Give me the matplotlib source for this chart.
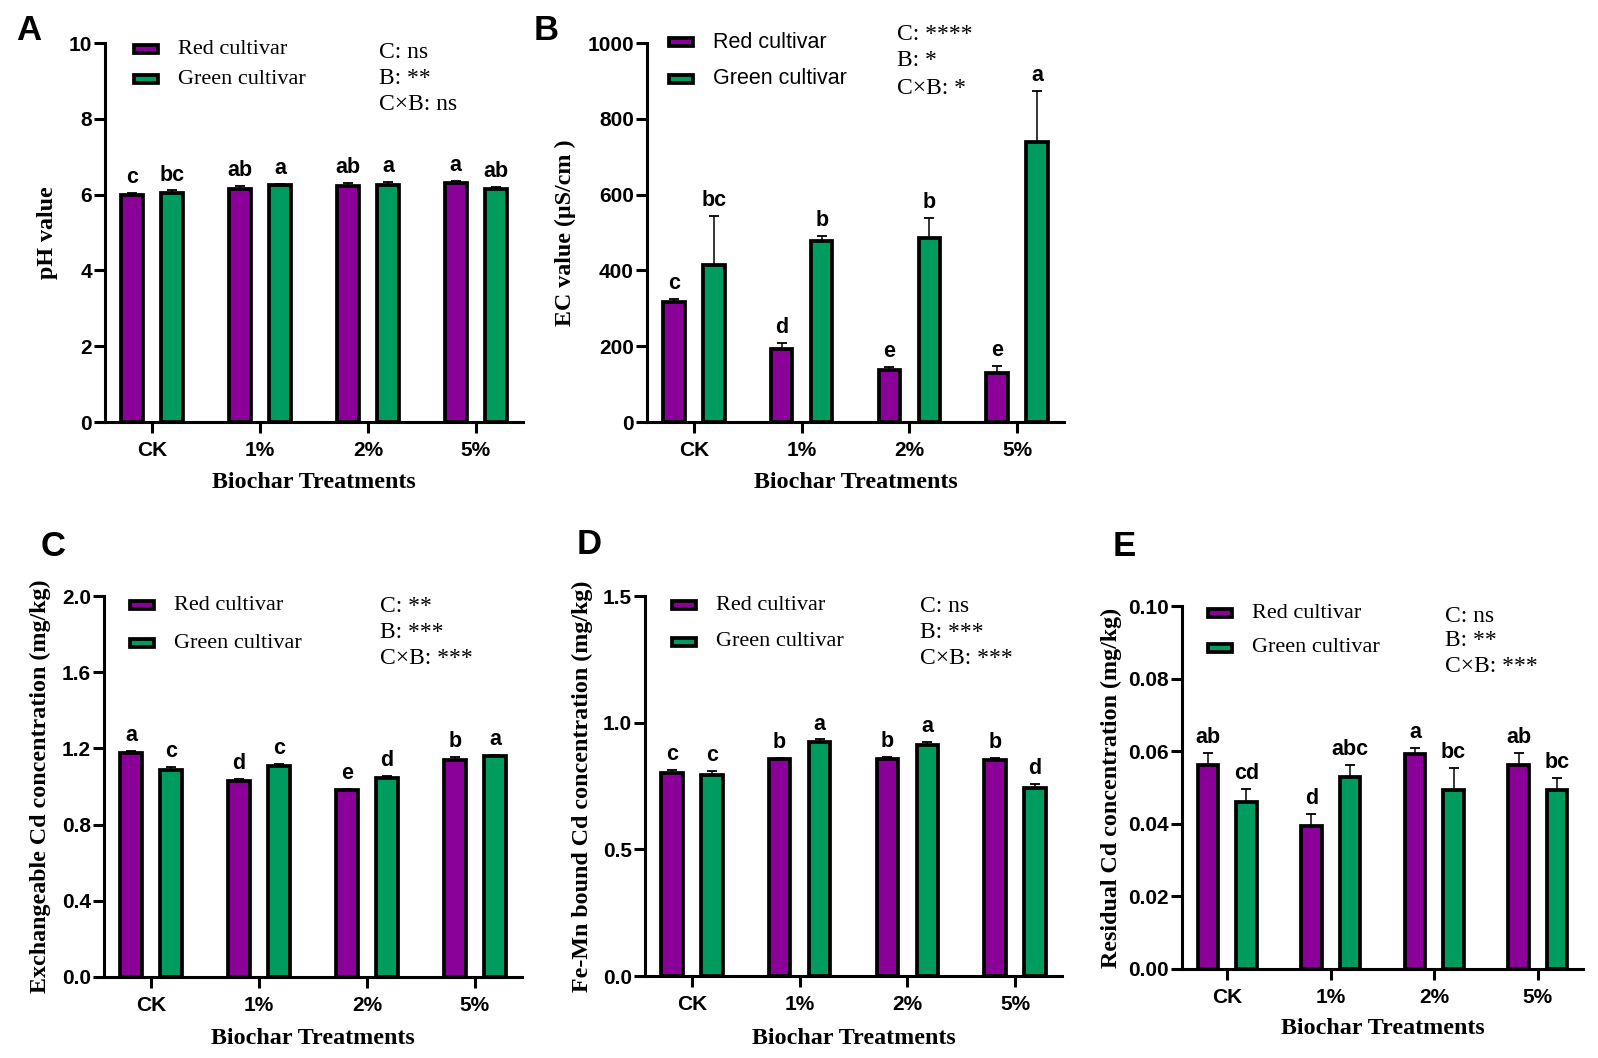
import numpy as np
import matplotlib
matplotlib.use("Agg")
import matplotlib.pyplot as plt
from matplotlib.patches import Rectangle

# shared data
treatments = ["CK", "1%", "2%", "5%"]
cultivars = ["Red cultivar", "Green cultivar"]

# A: pH
ph_red = [5.98, 6.15, 6.22, 6.30]
ph_red_err = [0.06, 0.07, 0.08, 0.05]
ph_green = [6.05, 6.25, 6.25, 6.15]
ph_green_err = [0.06, 0.04, 0.08, 0.05]
ph_red_sig = ["c", "ab", "ab", "a"]
ph_green_sig = ["bc", "a", "a", "ab"]
ph_stats = ["C: ns", "B: **", "C\u00d7B: ns"]

# B: EC
ec_red = [317, 192, 137, 128]
ec_red_err = [8, 17, 9, 20]
ec_green = [414, 478, 486, 738]
ec_green_err = [130, 14, 53, 136]
ec_red_sig = ["c", "d", "e", "e"]
ec_green_sig = ["bc", "b", "b", "a"]
ec_stats = ["C: ****", "B: *", "C\u00d7B: *"]

# C: exchangeable Cd
ex_red = [1.177, 1.030, 0.981, 1.138]
ex_red_err = [0.008, 0.010, 0.006, 0.015]
ex_green = [1.089, 1.107, 1.042, 1.159]
ex_green_err = [0.012, 0.012, 0.013, 0.007]
ex_red_sig = ["a", "d", "e", "b"]
ex_green_sig = ["c", "c", "d", "a"]
ex_stats = ["C: **", "B: ***", "C\u00d7B: ***"]

# D: Fe-Mn bound Cd
fm_red = [0.803, 0.857, 0.855, 0.853]
fm_red_err = [0.010, 0.004, 0.011, 0.008]
fm_green = [0.793, 0.925, 0.911, 0.743]
fm_green_err = [0.016, 0.009, 0.013, 0.014]
fm_red_sig = ["c", "b", "b", "b"]
fm_green_sig = ["c", "a", "a", "d"]
fm_stats = ["C: ns", "B: ***", "C\u00d7B: ***"]

# E: residual Cd
re_red = [0.0562, 0.0394, 0.0593, 0.0562]
re_red_err = [0.0034, 0.0033, 0.0015, 0.0034]
re_green = [0.0459, 0.0528, 0.0494, 0.0494]
re_green_err = [0.0036, 0.0034, 0.0059, 0.0032]
re_red_sig = ["ab", "d", "a", "ab"]
re_green_sig = ["cd", "abc", "bc", "bc"]
re_stats = ["C: ns", "B: **", "C\u00d7B: ***"]

PURPLE = "#8b0099"
GREEN = "#009b5e"
SERIF = "Liberation Serif"
SANS = "Liberation Sans"

W, H = 1598, 1058
fig = plt.figure(figsize=(W / 100, H / 100), dpi=100)


def fx(x):
    return x / W


def fy(y):
    return 1 - y / H


def panel(box, red, red_err, green, green_err, red_sig, green_sig,
          ylim, yticks, yfmt, ylabel, stats, letter, letter_xy,
          legend_xy, legend_gap, stats_xy, ylabel_x, xlabel_y,
          legend_font=SERIF):
    l, t, r, b = box
    ax = fig.add_axes([fx(l), fy(b), (r - l) / W, (b - t) / H])
    x = np.arange(len(treatments))
    off, wid = 0.186, 0.2
    for vals, errs, sig, col, sgn in [(red, red_err, red_sig, PURPLE, -1),
                                      (green, green_err, green_sig, GREEN, 1)]:
        xs = x + sgn * off
        ax.bar(xs, vals, wid, color=col, edgecolor="black", linewidth=2.7,
               zorder=3)
        ax.errorbar(xs, vals, yerr=[np.zeros(len(vals)), errs], fmt="none",
                    ecolor="black", elinewidth=1.1, capsize=3.3, capthick=1.3,
                    zorder=2)
        for xi, v, e, s in zip(xs, vals, errs, sig):
            ax.annotate(s, (xi, v + e), xytext=(0, 3.5),
                        textcoords="offset points", ha="center", va="bottom",
                        fontsize=15.5, fontweight="bold", family=SANS)
    ax.set_xlim(-0.436, 3.436)
    ax.set_ylim(*ylim)
    ax.set_yticks(yticks)
    ax.set_yticklabels([yfmt.format(v) for v in yticks])
    ax.set_xticks(x)
    ax.set_xticklabels(treatments)
    for lab in ax.get_xticklabels() + ax.get_yticklabels():
        lab.set_fontweight("bold")
        lab.set_fontfamily(SANS)
        lab.set_fontsize(15)
    ax.tick_params(axis="x", length=8, width=2.2, pad=6)
    ax.tick_params(axis="y", length=8, width=2.2, pad=1.5)
    for side in ["top", "right"]:
        ax.spines[side].set_visible(False)
    for side in ["left", "bottom"]:
        ax.spines[side].set_linewidth(2.2)

    # axis titles, panel letter, legend and stats in pixel positions
    fig.text(fx(ylabel_x), fy((t + b) / 2), ylabel, rotation=90,
             ha="center", va="center", fontsize=17.3, fontweight="bold",
             family=SERIF)
    fig.text(fx((l + r) / 2), fy(xlabel_y), "Biochar Treatments",
             ha="center", va="center", fontsize=17.3, fontweight="bold",
             family=SERIF)
    fig.text(fx(letter_xy[0]), fy(letter_xy[1]), letter, ha="center",
             va="center", fontsize=25, fontweight="bold", family=SANS)

    hx, hy0 = legend_xy
    for i, (lab, col) in enumerate(zip(cultivars, [PURPLE, GREEN])):
        yc = hy0 + i * legend_gap
        fig.patches.append(Rectangle((fx(hx + 2), fy(yc + 4)), 24 / W, 8 / H,
                                     transform=fig.transFigure,
                                     facecolor=col, edgecolor="black",
                                     linewidth=2.7))
        fsize = 16 if legend_font == SERIF else 15.5
        fig.text(fx(hx + 46), fy(yc), lab, ha="left", va="center",
                 fontsize=fsize, family=legend_font)
    sx, sy0, sgap = stats_xy
    for i, line in enumerate(stats):
        fig.text(fx(sx), fy(sy0 + i * sgap), line, ha="left", va="center",
                 fontsize=17, family=SERIF)
    return ax


panel((105, 43, 523, 422), ph_red, ph_red_err, ph_green, ph_green_err,
      ph_red_sig, ph_green_sig, (0, 10), [0, 2, 4, 6, 8, 10], "{:d}",
      "pH value", ph_stats, "A", (29, 30), (132, 49), 30, (379, 52, 26),
      47, 483)

panel((647, 43, 1064, 422), ec_red, ec_red_err, ec_green, ec_green_err,
      ec_red_sig, ec_green_sig, (0, 1000), [0, 200, 400, 600, 800, 1000],
      "{:d}", "EC value (\u03bcS/cm )", ec_stats, "B", (546, 30),
      (667, 42), 37, (897, 34, 27), 565, 483, legend_font=SANS)

panel((104, 596, 522, 977), ex_red, ex_red_err, ex_green, ex_green_err,
      ex_red_sig, ex_green_sig, (0, 2.0), [0.0, 0.4, 0.8, 1.2, 1.6, 2.0],
      "{:.1f}", "Exchangeable Cd concentration (mg/kg)", ex_stats, "C",
      (53, 546), (128, 605), 38, (380, 606, 26), 40, 1038)

panel((645, 596, 1062, 976), fm_red, fm_red_err, fm_green, fm_green_err,
      fm_red_sig, fm_green_sig, (0, 1.5), [0.0, 0.5, 1.0, 1.5], "{:.1f}",
      "Fe-Mn bound Cd concentration (mg/kg)", fm_stats, "D", (589, 545),
      (670, 605), 37, (920, 606, 26), 582, 1038)

panel((1182, 606, 1583, 969), re_red, re_red_err, re_green, re_green_err,
      re_red_sig, re_green_sig, (0, 0.10), [0.00, 0.02, 0.04, 0.06, 0.08, 0.10],
      "{:.2f}", "Residual Cd concentration (mg/kg)", re_stats, "E",
      (1124, 547), (1206, 613), 35, (1445, 616, 25), 1111, 1028)

fig.savefig("out.png", dpi=100)
